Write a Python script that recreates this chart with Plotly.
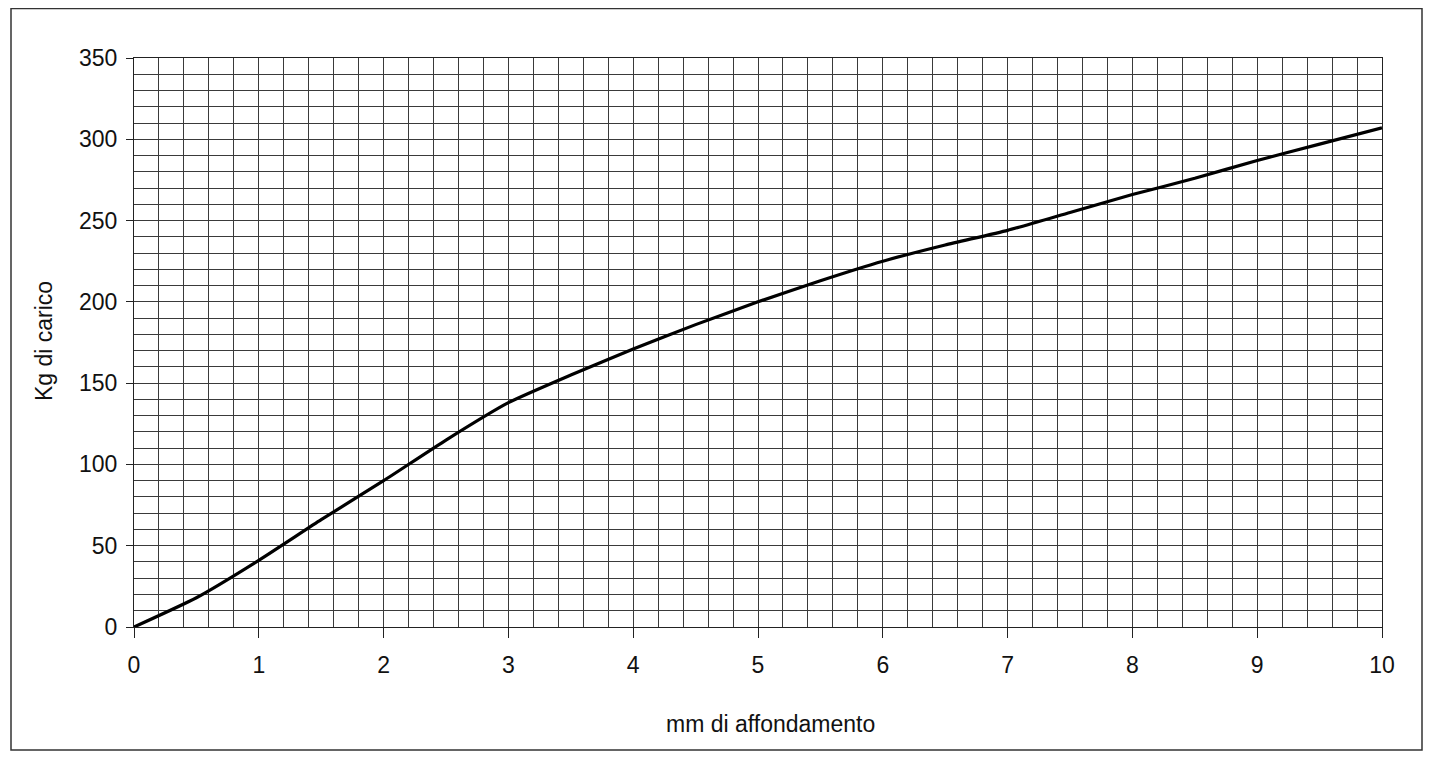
import plotly.graph_objects as go

# mm di affondamento vs Kg di carico
mm = [0, 0.5, 1, 1.5, 2, 2.5, 3, 3.5, 4, 4.5, 5, 5.5, 6, 6.5, 7, 7.5, 8, 8.5, 9, 9.5, 10]
kg = [0, 18, 41, 66, 90, 115, 138, 155, 171, 186, 200, 213, 225, 235, 244, 255, 266, 276, 287, 297, 307]

x_ticks = list(range(0, 11))
y_ticks = list(range(0, 351, 50))

# the page puts the plot 8px in from the top-left corner
W, H = 1436, 759
L, T = 126, 50
pw, ph = 1248, 569
R, B = W - L - pw, H - T - ph

font = dict(family="Liberation Sans, Arial, sans-serif", size=23, color="#111")
grid_color = "#3a3a3a"

fig = go.Figure()
fig.add_trace(
    go.Scatter(
        x=mm,
        y=kg,
        mode="lines",
        line=dict(color="black", width=3.2, shape="spline", smoothing=0.5),
        showlegend=False,
    )
)

fig.update_xaxes(
    range=[0, 10],
    tickvals=x_ticks,
    ticks="outside",
    ticklen=10,
    tickcolor="#222",
    ticklabelstandoff=7,
    showgrid=True,
    gridcolor=grid_color,
    gridwidth=1,
    minor=dict(dtick=0.2, showgrid=True, gridcolor=grid_color, gridwidth=1),
    showline=True,
    linecolor="#222",
    mirror=True,
    zeroline=False,
    tickfont=font,
)
fig.update_yaxes(
    range=[0, 350],
    tickvals=y_ticks,
    ticks="outside",
    ticklen=7,
    tickcolor="#222",
    ticklabelstandoff=4,
    showgrid=True,
    gridcolor=grid_color,
    gridwidth=1,
    minor=dict(dtick=10, showgrid=True, gridcolor=grid_color, gridwidth=1),
    showline=True,
    linecolor="#222",
    mirror=True,
    zeroline=False,
    tickfont=font,
)

fig.add_annotation(
    text="mm di affondamento",
    xref="paper", yref="paper",
    x=(762 - 126) / pw, y=(619 - 716) / ph,
    showarrow=False,
    font=font,
    xanchor="center", yanchor="middle",
)
fig.add_annotation(
    text="Kg di carico",
    xref="paper", yref="paper",
    x=(36 - 126) / pw, y=(619 - 333) / ph,
    textangle=-90,
    showarrow=False,
    font=font,
    xanchor="center", yanchor="middle",
)

# outer frame of the chart area
fig.add_shape(
    type="rect",
    xref="paper", yref="paper",
    x0=(3 - L) / pw, x1=(1414 - L) / pw,
    y0=(T + ph - 742) / ph, y1=(T + ph - 0.5) / ph,
    line=dict(color="#333", width=1.5),
    layer="below",
)

fig.update_layout(
    width=W,
    height=H,
    margin=dict(l=L, r=R, t=T, b=B),
    plot_bgcolor="white",
    paper_bgcolor="white",
    font=font,
)

fig.write_html("out.html")
